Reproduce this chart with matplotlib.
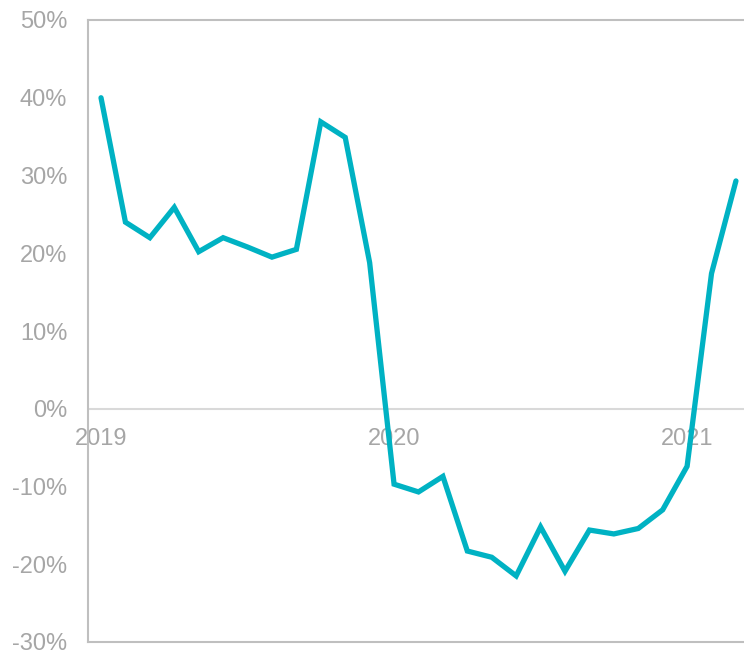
import matplotlib.pyplot as plt
from matplotlib.ticker import FuncFormatter

plt.rcParams['font.family'] = ['Liberation Sans', 'DejaVu Sans']

# Monthly growth, Jan 2019 - Mar 2021 (%)
months = list(range(27))
growth = [40.0, 24.0, 22.0, 25.9, 20.2, 22.0, 20.8, 19.5, 20.5, 36.9, 34.9, 18.8,
          -9.7, -10.7, -8.7, -18.3, -19.1, -21.5, -15.2, -20.9, -15.6, -16.1, -15.4, -13.0,
          -7.4, 17.4, 29.3]
year_labels = ['2019', '2020', '2021']
year_pos = [0, 12, 24]

fig = plt.figure(figsize=(7.44, 6.53), dpi=100)
ax = fig.add_axes([88 / 744, 1 - 642 / 653, 1 - 88 / 744, (642 - 20) / 653])

ax.plot(months, growth, color='#00B2C3', linewidth=3.8, solid_capstyle='round',
        solid_joinstyle='miter', zorder=3)
ax.axhline(0, color='#D9D9D9', linewidth=1.5, zorder=1)

ax.set_ylim(-30, 50)
ax.set_xlim(-0.533, 26.33)
ax.set_yticks(range(-30, 51, 10))
ax.yaxis.set_major_formatter(FuncFormatter(lambda v, p: f'{v:.0f}%'))
ax.tick_params(axis='y', length=0, labelsize=17, labelcolor='#A6A6A6', pad=15)
ax.set_xticks([])

for s in ax.spines.values():
    s.set_color('#BFBFBF')
    s.set_linewidth(1.5)
ax.spines['right'].set_visible(False)

for pos, lab in zip(year_pos, year_labels):
    ax.annotate(lab, xy=(pos, 0), xytext=(0, -14), textcoords='offset points',
                ha='center', va='top', fontsize=17, color='#A6A6A6', zorder=2)

fig.savefig('out.png', dpi=100)
